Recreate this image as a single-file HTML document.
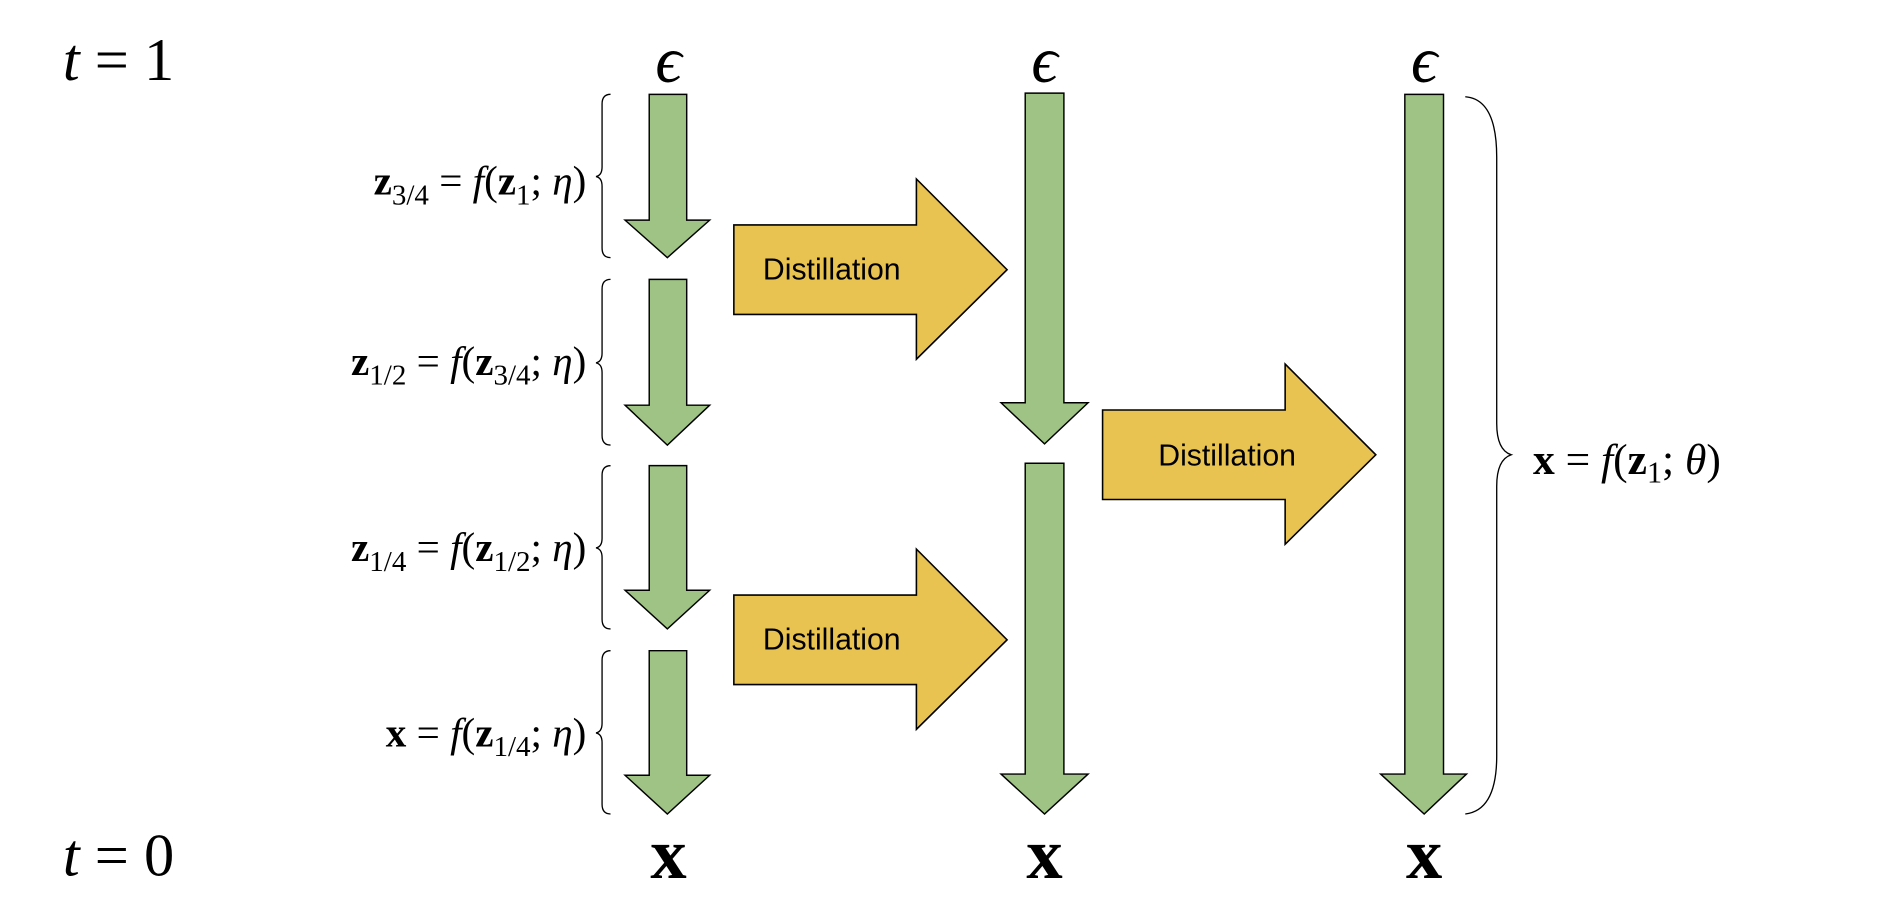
<!DOCTYPE html>
<html><head><meta charset="utf-8"><style>
html,body{margin:0;padding:0;background:#fff;}
svg{display:block;}
.m{font-family:"Liberation Serif",serif;fill:#000;}
.s{font-family:"Liberation Sans",sans-serif;fill:#000;}
</style></head><body>
<svg width="1886" height="918" viewBox="0 0 1560 759" preserveAspectRatio="none" xmlns="http://www.w3.org/2000/svg">
<defs>
<g id="dist">
<polygon points="0,0 151,0 151,-38 226,37 151,111 151,74 0,74" fill="#E8C352" stroke="#000" stroke-width="1.3"/>
</g>
</defs>
<!-- t labels -->
<text class="m" x="52" y="66" font-size="50"><tspan font-style="italic">t</tspan> = 1</text>
<text class="m" x="52" y="724" font-size="50"><tspan font-style="italic">t</tspan> = 0</text>
<!-- epsilons -->
<text class="m" x="553" y="68" font-size="54" font-style="italic" text-anchor="middle">ϵ</text>
<text class="m" x="864" y="68" font-size="54" font-style="italic" text-anchor="middle">ϵ</text>
<text class="m" x="1178" y="68" font-size="54" font-style="italic" text-anchor="middle">ϵ</text>
<!-- x -->
<text class="m" x="553" y="726" font-size="60" font-weight="bold" text-anchor="middle">x</text>
<text class="m" x="864" y="726" font-size="60" font-weight="bold" text-anchor="middle">x</text>
<text class="m" x="1178" y="726" font-size="60" font-weight="bold" text-anchor="middle">x</text>
<!-- green arrows column 1 -->
<g fill="#9EC384" stroke="#000" stroke-width="1.2">
<polygon points="537,78 568,78 568,182 587,182 552,213 517,182 537,182"/>
<polygon points="537,231 568,231 568,335 587,335 552,368 517,335 537,335"/>
<polygon points="537,385 568,385 568,488 587,488 552,520 517,488 537,488"/>
<polygon points="537,538 568,538 568,641 587,641 552,673 517,641 537,641"/>
<polygon points="848,77 880,77 880,333 900,333 864,367 828,333 848,333"/>
<polygon points="848,383 880,383 880,640 900,640 864,673 828,640 848,640"/>
<polygon points="1162,78 1194,78 1194,640 1213,640 1178,673 1142,640 1162,640"/>
</g>
<!-- distillation arrows -->
<use href="#dist" x="607" y="186"/>
<use href="#dist" x="607" y="492"/>
<use href="#dist" x="912" y="339"/>
<text class="s" x="688" y="231" font-size="25" text-anchor="middle">Distillation</text>
<text class="s" x="688" y="537" font-size="25" text-anchor="middle">Distillation</text>
<text class="s" x="1015" y="385" font-size="25" text-anchor="middle">Distillation</text>
<!-- left braces -->
<g fill="none" stroke="#000" stroke-width="1.1">
<path d="M505,78 Q498,78 498,86 L498,138 Q498,145 493,146 Q498,147 498,154 L498,205 Q498,213 505,213"/>
<path d="M505,231 Q498,231 498,239 L498,292 Q498,299 493,300 Q498,301 498,308 L498,360 Q498,368 505,368"/>
<path d="M505,385 Q498,385 498,393 L498,445 Q498,452 493,453 Q498,454 498,461 L498,512 Q498,520 505,520"/>
<path d="M505,538 Q498,538 498,546 L498,598 Q498,605 493,606 Q498,607 498,614 L498,665 Q498,673 505,673"/>
<path d="M1212,80 Q1238,82 1238,130 L1238,350 Q1238,372 1250,376 Q1238,380 1238,402 L1238,625 Q1238,670 1212,673"/>
</g>
<!-- left labels -->
<g class="m" font-size="34" text-anchor="end">
<text x="485" y="161"><tspan font-weight="bold">z</tspan><tspan font-size="24" dy="8">3/4</tspan><tspan dy="-8"> = </tspan><tspan font-style="italic">f</tspan>(<tspan font-weight="bold">z</tspan><tspan font-size="24" dy="8">1</tspan><tspan dy="-8">; </tspan><tspan font-style="italic">η</tspan>)</text>
<text x="485" y="310"><tspan font-weight="bold">z</tspan><tspan font-size="24" dy="8">1/2</tspan><tspan dy="-8"> = </tspan><tspan font-style="italic">f</tspan>(<tspan font-weight="bold">z</tspan><tspan font-size="24" dy="8">3/4</tspan><tspan dy="-8">; </tspan><tspan font-style="italic">η</tspan>)</text>
<text x="485" y="464"><tspan font-weight="bold">z</tspan><tspan font-size="24" dy="8">1/4</tspan><tspan dy="-8"> = </tspan><tspan font-style="italic">f</tspan>(<tspan font-weight="bold">z</tspan><tspan font-size="24" dy="8">1/2</tspan><tspan dy="-8">; </tspan><tspan font-style="italic">η</tspan>)</text>
<text x="485" y="617"><tspan font-weight="bold">x</tspan> = <tspan font-style="italic">f</tspan>(<tspan font-weight="bold">z</tspan><tspan font-size="24" dy="8">1/4</tspan><tspan dy="-8">; </tspan><tspan font-style="italic">η</tspan>)</text>
</g>
<text class="m" x="1268" y="392" font-size="36"><tspan font-weight="bold">x</tspan> = <tspan font-style="italic">f</tspan>(<tspan font-weight="bold">z</tspan><tspan font-size="25" dy="7">1</tspan><tspan dy="-7">; </tspan><tspan font-style="italic">θ</tspan>)</text>
</svg>
</body></html>
